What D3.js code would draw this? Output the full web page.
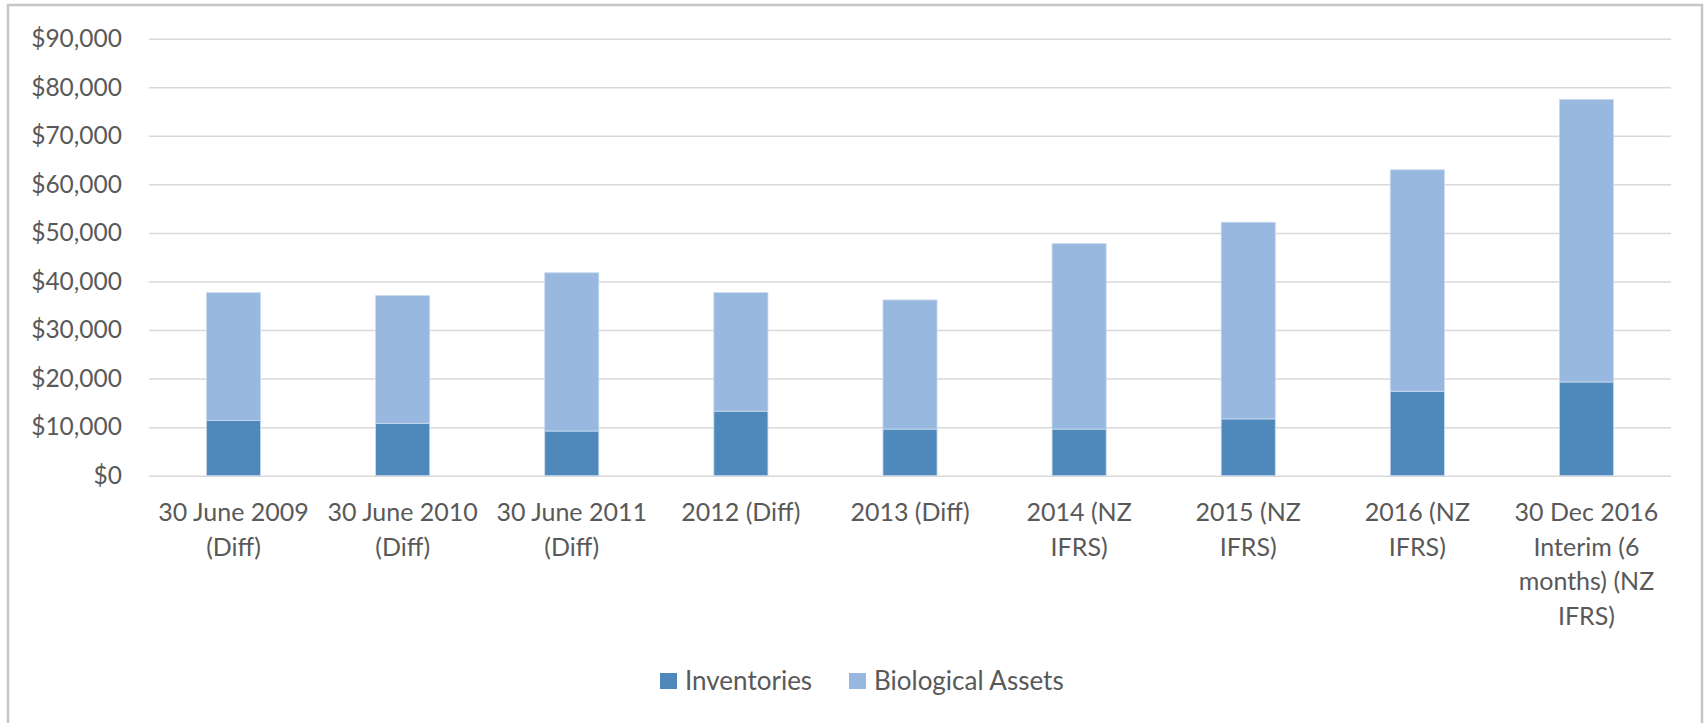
<!DOCTYPE html>
<html>
<head>
<meta charset="utf-8">
<script src="https://cdn.jsdelivr.net/npm/d3@7"></script>
<style>
  body { margin: 0; background: #fff; }
  text { font-family: Lato, "Open Sans", sans-serif; fill: #595959; }
</style>
</head>
<body>
<div id="container"></div>
<script>
// categories, one array of label lines per bar (wrapped as in the original)
var categories = [
  ["30 June 2009", "(Diff)"],
  ["30 June 2010", "(Diff)"],
  ["30 June 2011", "(Diff)"],
  ["2012 (Diff)"],
  ["2013 (Diff)"],
  ["2014 (NZ", "IFRS)"],
  ["2015 (NZ", "IFRS)"],
  ["2016 (NZ", "IFRS)"],
  ["30 Dec 2016", "Interim (6", "months) (NZ", "IFRS)"]
];
var inventories = [11400, 10800, 9200, 13300, 9600, 9600, 11700, 17400, 19300];
var biologicalAssets = [26300, 26300, 32600, 24400, 26600, 38200, 40500, 45600, 58200];
var seriesNames = ["Inventories", "Biological Assets"];
var yTicks = [0, 10000, 20000, 30000, 40000, 50000, 60000, 70000, 80000, 90000];

var width = 1708, height = 723;
var colors = { "Inventories": "#4f89bc", "Biological Assets": "#98b8df" };

var svg = d3.select("#container").append("svg")
    .attr("width", width)
    .attr("height", height);

// chart frame
svg.append("rect")
    .attr("x", 8).attr("y", 5)
    .attr("width", 1694).attr("height", 740)
    .attr("fill", "#fff")
    .attr("stroke", "#c6c6c6")
    .attr("stroke-width", 2.5);

var rows = categories.map(function(c, i) {
    return { idx: i, "Inventories": inventories[i], "Biological Assets": biologicalAssets[i] };
});

var x = d3.scaleBand()
    .domain(d3.range(categories.length))
    .range([149, 1671])
    .paddingInner(0.68)
    .paddingOuter(0.34);

var y = d3.scaleLinear()
    .domain([0, 90000])
    .range([475.7, 38.7]);

// gridlines + y labels
var yAxis = d3.axisLeft(y)
    .tickValues(yTicks)
    .tickSize(-(1671 - 149))
    .tickPadding(27)
    .tickFormat(function(d) { return "$" + d3.format(",")(d); });

var gy = svg.append("g")
    .attr("transform", "translate(149,0)")
    .call(yAxis);
gy.select(".domain").remove();
gy.selectAll(".tick line").attr("stroke", "#d9d9d9").attr("stroke-width", 1.5);
gy.selectAll(".tick text")
    .style("font-size", "24.5px")
    .attr("fill", "#595959");

// stacked bars
var stack = d3.stack().keys(seriesNames);
var stacked = stack(rows);

svg.append("g")
    .selectAll("g")
    .data(stacked)
    .enter().append("g")
        .attr("fill", function(d) { return colors[d.key]; })
    .selectAll("rect")
    .data(function(d) { return d; })
    .enter().append("rect")
        .attr("x", function(d) { return x(d.data.idx); })
        .attr("y", function(d) { return y(d[1]); })
        .attr("width", x.bandwidth())
        .attr("height", function(d) { return y(d[0]) - y(d[1]); })
        .attr("stroke", "#c9dbf0")
        .attr("stroke-width", 0.8);

// x labels
var xl = svg.append("g")
    .selectAll("text")
    .data(categories)
    .enter().append("text")
        .attr("text-anchor", "middle")
        .attr("transform", function(d, i) {
            return "translate(" + (x(i) + x.bandwidth() / 2) + ",521)";
        })
        .style("font-size", "25px");

xl.selectAll("tspan")
    .data(function(d) { return d; })
    .enter().append("tspan")
        .attr("x", 0)
        .attr("y", function(d, j) { return j * 34.6; })
        .text(function(d) { return d; });

// legend
var legendX = [660, 849];
var lg = svg.append("g")
    .selectAll("g")
    .data(seriesNames)
    .enter().append("g")
        .attr("transform", function(d, i) { return "translate(" + legendX[i] + ",673)"; });

lg.append("rect")
    .attr("width", 17).attr("height", 16)
    .attr("fill", function(d) { return colors[d]; });

lg.append("text")
    .attr("x", 25)
    .attr("y", 8)
    .attr("dy", "0.35em")
    .style("font-size", "26px")
    .text(function(d) { return d; });
</script>
</body>
</html>
